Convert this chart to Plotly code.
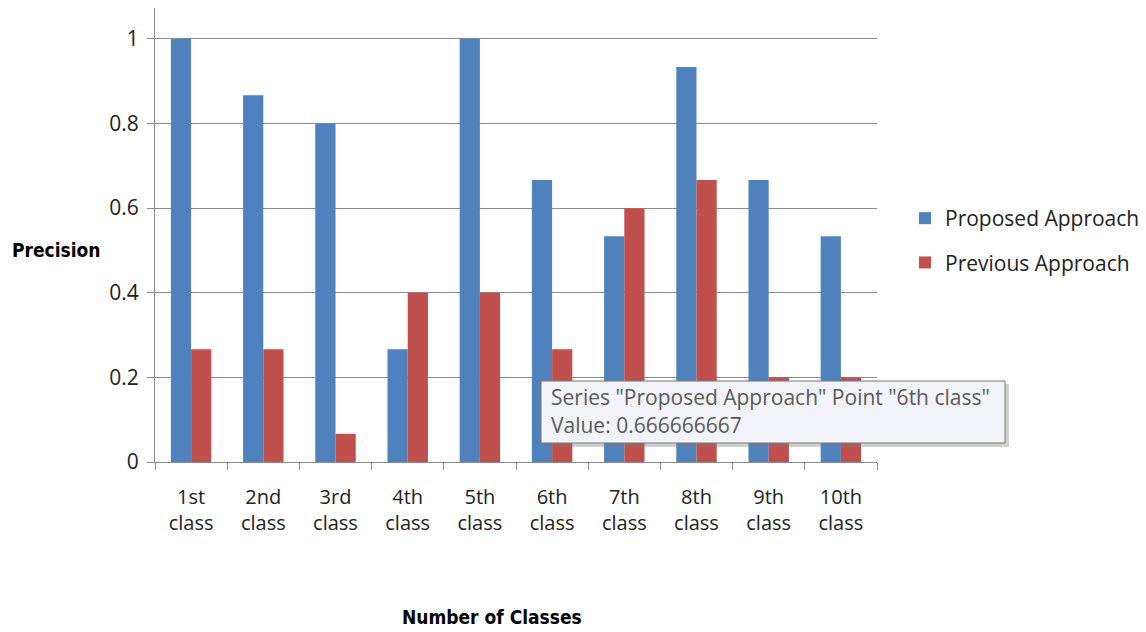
import plotly.graph_objects as go

categories = ["1st<br>class", "2nd<br>class", "3rd<br>class", "4th<br>class", "5th<br>class",
              "6th<br>class", "7th<br>class", "8th<br>class", "9th<br>class", "10th<br>class"]
proposed = [1.0, 0.8667, 0.8, 0.2667, 1.0, 0.6667, 0.5333, 0.9333, 0.6667, 0.5333]
previous = [0.2667, 0.2667, 0.0667, 0.4, 0.4, 0.2667, 0.6, 0.6667, 0.2, 0.2]
y_ticks = [0, 0.2, 0.4, 0.6, 0.8, 1]
y_ticklabels = ["0", "0.2", "0.4", "0.6", "0.8", "1"]

FONT = "Open Sans, DejaVu Sans, sans-serif"
TITLE_FONT = "DejaVu Sans Condensed, Liberation Sans Narrow, sans-serif"
GRID = "#8a8a8a"
TXT = "#222222"

fig = go.Figure()
fig.add_trace(go.Bar(name="Proposed Approach", x=categories, y=proposed,
                     marker=dict(color="#4F81BD", line=dict(width=0)), legendgroup="a"))
fig.add_trace(go.Bar(name="Previous Approach", x=categories, y=previous,
                     marker=dict(color="#C0504D", line=dict(width=0)), legendgroup="b"))

def px2paper(px, py):
    return (px - 155) / 722, (462 - py) / 454

# tooltip box (shadow + box)
sx0, sy0 = px2paper(544, 384)
sx1, sy1 = px2paper(1009, 447)
bx0, by0 = px2paper(541, 381)
bx1, by1 = px2paper(1005, 443)
fig.add_shape(type="rect", xref="paper", yref="paper", x0=sx0, y0=sy1, x1=sx1, y1=sy0,
              fillcolor="rgba(120,120,120,0.35)", line=dict(width=0), layer="above")
fig.add_shape(type="rect", xref="paper", yref="paper", x0=bx0, y0=by1, x1=bx1, y1=by0,
              fillcolor="#F1F3F9", line=dict(color="#767676", width=1), layer="above")
tx, ty1 = px2paper(549, 397)
_, ty2 = px2paper(549, 425)
fig.add_annotation(xref="paper", yref="paper", x=tx, y=ty1, xanchor="left", yanchor="middle",
                   text='Series "Proposed Approach" Point "6th class"', showarrow=False,
                   font=dict(family=FONT, size=21, color="#5a5a5a"))
fig.add_annotation(xref="paper", yref="paper", x=tx, y=ty2, xanchor="left", yanchor="middle",
                   text="Value: 0.666666667", showarrow=False,
                   font=dict(family=FONT, size=21, color="#5a5a5a"))

# axis titles
ax, ay = px2paper(56, 250)
fig.add_annotation(xref="paper", yref="paper", x=ax, y=ay, xanchor="center", yanchor="middle",
                   text="<b>Precision</b>", showarrow=False,
                   font=dict(family=TITLE_FONT, size=19, color="black"))
bx, by = px2paper(492, 617)
fig.add_annotation(xref="paper", yref="paper", x=bx, y=by, xanchor="center", yanchor="middle",
                   text="<b>Number of Classes</b>", showarrow=False,
                   font=dict(family=TITLE_FONT, size=19, color="black"))

lx, ly = px2paper(905, 198)
fig.update_layout(
    width=1146, height=632,
    margin=dict(l=155, r=269, t=8, b=170, autoexpand=False),
    paper_bgcolor="white", plot_bgcolor="white",
    barmode="group", bargap=0.44, bargroupgap=0,
    showlegend=True,
    legend=dict(x=lx, y=ly, xanchor="left", yanchor="top", tracegroupgap=14,
                font=dict(family=FONT, size=21, color=TXT), bgcolor="rgba(0,0,0,0)"),
    font=dict(family=FONT, size=21, color=TXT),
    xaxis=dict(type="category", range=[-0.5, 9.5], showline=True, linecolor=GRID, linewidth=1,
               ticks="outside", tickson="boundaries", ticklen=7, tickcolor=GRID,
               showgrid=False, tickfont=dict(family=FONT, size=20, color=TXT),
               ticklabelstandoff=17, fixedrange=True),
    yaxis=dict(range=[0, 1.073], tickvals=y_ticks, ticktext=y_ticklabels, showline=True,
               linecolor=GRID, linewidth=1, ticks="outside", ticklen=7, tickcolor=GRID,
               showgrid=True, gridcolor=GRID, gridwidth=1, zeroline=False,
               tickfont=dict(family=FONT, size=21, color=TXT), ticklabelstandoff=4),
    hovermode=False,
)
fig.write_html("out.html")
